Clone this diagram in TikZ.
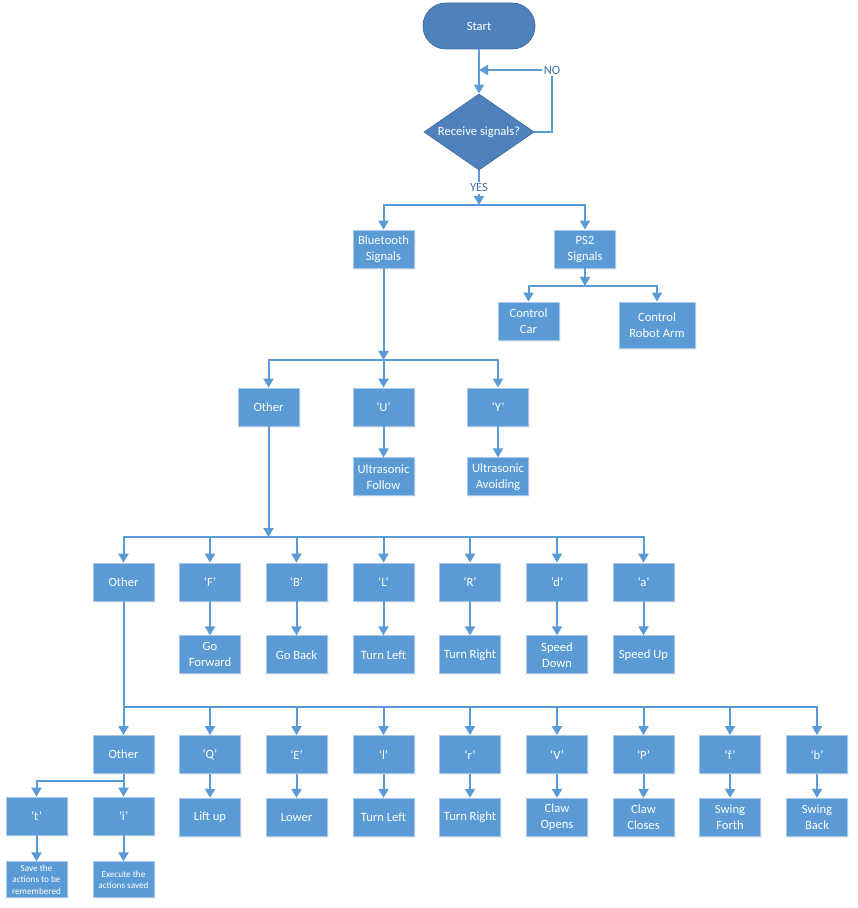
\documentclass[tikz,border=0pt]{standalone}
\usepackage{fontspec}
\setmainfont{Carlito}
\usetikzlibrary{arrows.meta, positioning, shapes.geometric, shadows}
\definecolor{lineblue}{HTML}{5B9BD5}
\definecolor{boxblue}{HTML}{5B9BD5}
\definecolor{boxedge}{HTML}{A9C8E8}
\definecolor{termblue}{HTML}{4F81BD}
\tikzset{
  term/.style={draw=termblue!85!black, fill=termblue, rounded corners=11.5pt,
               minimum width=56pt, minimum height=23pt, text=white,
               font=\fontsize{6.3}{8}\selectfont},
  ask/.style={diamond, aspect=1.45, draw=termblue!85!black, fill=termblue,
              minimum width=55pt, minimum height=38pt, inner sep=0pt, text=white,
              font=\fontsize{6.3}{8}\selectfont},
  box/.style={draw=boxedge, fill=boxblue, minimum width=30.5pt, minimum height=19pt,
              align=center, inner sep=1pt, text=white, font=\fontsize{6.3}{8}\selectfont,
              drop shadow={opacity=0.12, shadow xshift=0.8pt, shadow yshift=-0.8pt}},
  bigbox/.style={box, minimum width=38pt, minimum height=23pt},
  note/.style={box, minimum height=18pt, font=\fontsize{4.6}{5.8}\selectfont},
  flow/.style={-{Triangle[length=4.5pt, width=5pt]}, line width=1pt, draw=lineblue},
  link/.style={line width=1pt, draw=lineblue},
  tag/.style={fill=white, inner sep=1pt, text=lineblue!75!black,
              font=\fontsize{6.3}{8}\selectfont},
}

\begin{document}
\begin{tikzpicture}[x=0.5pt, y=-0.5pt]
  \useasboundingbox (0,0) rectangle (857,908);
  % start and the signal test
  \node (st) [term] at (479,26) {Start};
  \node (dec) [ask] at (479,132) {Receive signals?};
  \coordinate (noc) at (552,70); \coordinate (back) at (479,70);
  \coordinate (j0) at (479,205);
  \draw[flow] (st) -- (dec);
  \draw[flow] (dec.east) -| (noc) node[tag] {NO} -- (back);
  \draw[flow] (dec) -- node[tag] {YES} (j0);

  % bluetooth / ps2
  \node (bt) [box] at (383.5,249) {Bluetooth\\Signals};
  \node (ps) [box] at (585,249) {PS2\\Signals};
  \draw[flow] (j0) -| (bt); \draw[flow] (j0) -| (ps);
  \coordinate (j1) at (585,286);
  \node (car) [box] at (528.5,321) {Control\\Car};
  \node (arm) [bigbox] at (657,325) {Control\\Robot Arm};
  \draw[flow] (ps) -- (j1); \draw[flow] (j1) -| (car); \draw[flow] (j1) -| (arm);

  % ultrasonic modes
  \coordinate (j2) at (383.5,360);
  \node (oth1) [box] at (268.5,407) {Other};
  \node (u) [box] at (383.5,407) {`U'};
  \node (y) [box] at (498,407) {`Y'};
  \node (ufol) [box, below=15.5pt of u] {Ultrasonic\\Follow};
  \node (uavo) [box, below=15.5pt of y] {Ultrasonic\\Avoiding};
  \draw[flow] (bt) -- (j2);
  \draw[flow] (j2) -| (oth1); \draw[flow] (j2) -- (u); \draw[flow] (j2) -| (y);
  \draw[flow] (u) -- (ufol); \draw[flow] (y) -- (uavo);

  % car moves
  \coordinate (j3) at (268.5,537);
  \node (oth2) [box] at (123.5,582) {Other};
  \node (kF) [box] at (210,582) {`F'};
  \node (kB) [box] at (296.5,582) {`B'};
  \node (kL) [box] at (383.5,582) {`L'};
  \node (kR) [box] at (470,582) {`R'};
  \node (kd) [box] at (557,582) {`d'};
  \node (ka) [box] at (643.5,582) {`a'};
  \node (fwd) [box, below=17pt of kF] {Go\\Forward};
  \node (gob) [box, below=17pt of kB] {Go Back};
  \node (tl1) [box, below=17pt of kL] {Turn Left};
  \node (tr1) [box, below=17pt of kR] {Turn Right};
  \node (sdn) [box, below=17pt of kd] {Speed\\Down};
  \node (sup) [box, below=17pt of ka] {Speed Up};
  \draw[flow] (oth1) -- (j3);
  \draw[flow] (j3) -| (oth2); \draw[flow] (j3) -| (kF); \draw[flow] (j3) -| (kB);
  \draw[flow] (j3) -| (kL); \draw[flow] (j3) -| (kR); \draw[flow] (j3) -| (kd);
  \draw[flow] (j3) -| (ka);
  \draw[flow] (kF) -- (fwd); \draw[flow] (kB) -- (gob); \draw[flow] (kL) -- (tl1);
  \draw[flow] (kR) -- (tr1); \draw[flow] (kd) -- (sdn); \draw[flow] (ka) -- (sup);

  % arm moves
  \coordinate (j4) at (123.5,707);
  \node (oth3) [box] at (123.5,754.5) {Other};
  \node (kQ) [box] at (210,754.5) {`Q'};
  \node (kE) [box] at (296.5,754.5) {`E'};
  \node (kl) [box] at (383.5,754.5) {`l'};
  \node (kr) [box] at (470,754.5) {`r'};
  \node (kV) [box] at (557,754.5) {`V'};
  \node (kP) [box] at (643.5,754.5) {`P'};
  \node (kf) [box] at (730,754.5) {`f'};
  \node (kb) [box] at (817,754.5) {`b'};
  \node (lift) [box, below=12pt of kQ] {Lift up};
  \node (low) [box, below=12pt of kE] {Lower};
  \node (tl2) [box, below=12pt of kl] {Turn Left};
  \node (tr2) [box, below=12pt of kr] {Turn Right};
  \node (cop) [box, below=12pt of kV] {Claw\\Opens};
  \node (ccl) [box, below=12pt of kP] {Claw\\Closes};
  \node (swf) [box, below=12pt of kf] {Swing\\Forth};
  \node (swb) [box, below=12pt of kb] {Swing\\Back};
  \draw[link] (oth2) -- (j4);
  \draw[flow] (j4) -- (oth3); \draw[flow] (j4) -| (kQ); \draw[flow] (j4) -| (kE);
  \draw[flow] (j4) -| (kl); \draw[flow] (j4) -| (kr); \draw[flow] (j4) -| (kV);
  \draw[flow] (j4) -| (kP); \draw[flow] (j4) -| (kf); \draw[flow] (j4) -| (kb);
  \draw[flow] (kQ) -- (lift); \draw[flow] (kE) -- (low); \draw[flow] (kl) -- (tl2);
  \draw[flow] (kr) -- (tr2); \draw[flow] (kV) -- (cop); \draw[flow] (kP) -- (ccl);
  \draw[flow] (kf) -- (swf); \draw[flow] (kb) -- (swb);

  % remember / replay
  \coordinate (j5) at (123.5,781);
  \node (kt) [box] at (36.5,816) {`t'};
  \node (ki) [box] at (123.5,816) {`i'};
  \node (save) [note, below=13pt of kt] {Save the\\actions to be\\remembered};
  \node (exec) [note, below=13pt of ki] {Execute the\\actions saved};
  \draw[link] (oth3) -- (j5);
  \draw[flow] (j5) -| (kt); \draw[flow] (j5) -- (ki);
  \draw[flow] (kt) -- (save); \draw[flow] (ki) -- (exec);
\end{tikzpicture}
\end{document}
